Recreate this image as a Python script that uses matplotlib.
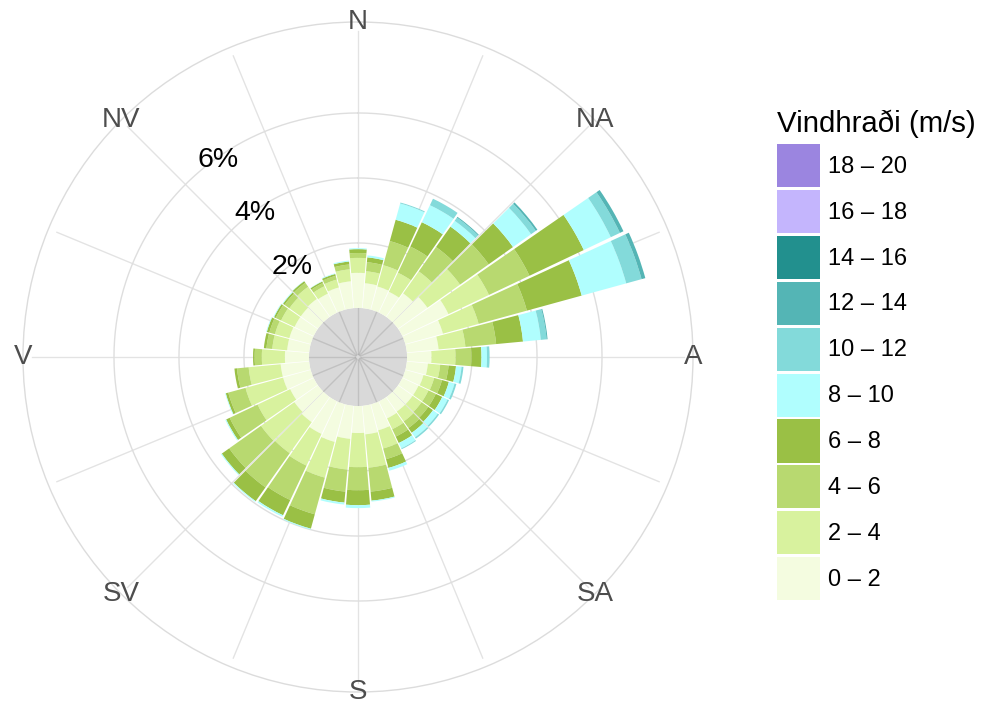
import numpy as np
import matplotlib.pyplot as plt
from matplotlib.patches import Patch

plt.rcParams['font.family'] = ['Liberation Sans', 'DejaVu Sans']

# wind direction bins (degrees, clockwise from north)
directions = np.arange(0, 360, 10)

speed_labels = ['0 – 2', '2 – 4', '4 – 6', '6 – 8', '8 – 10',
                '10 – 12', '12 – 14', '14 – 16', '16 – 18', '18 – 20']
speed_colors = ['#f4fce0', '#d8f29e', '#b8d970', '#9ac045', '#b0fefe',
                '#83dada', '#54b5b5', '#22908e', '#c4b5fd', '#9b85e0']

# frequency (%) per direction for each speed bin
f_0_2 = [1.08, 0.77, 0.74, 0.71, 0.89, 1.11, 1.57, 1.20, 0.98, 0.75, 0.65, 0.58,
         0.55, 0.55, 0.55, 0.58, 0.83, 0.88, 0.83, 1.02, 1.20, 1.11, 0.95, 0.89,
         0.80, 0.88, 0.88, 0.74, 0.68, 0.68, 0.65, 0.65, 0.68, 0.65, 0.71, 0.83]
f_2_4 = [0.46, 0.37, 0.68, 0.65, 0.83, 1.23, 1.38, 1.14, 0.83, 0.74, 0.38, 0.34,
         0.34, 0.34, 0.37, 0.37, 0.58, 1.03, 1.05, 0.95, 1.14, 1.08, 1.17, 1.26,
         1.11, 1.20, 0.99, 0.71, 0.46, 0.46, 0.46, 0.43, 0.46, 0.25, 0.25, 0.37]
f_4_6 = [0.15, 0.28, 0.77, 0.89, 0.92, 1.08, 1.38, 1.54, 0.95, 0.49, 0.26, 0.25,
         0.25, 0.25, 0.25, 0.25, 0.34, 0.74, 0.71, 0.68, 1.17, 1.17, 1.29, 1.20,
         0.95, 0.55, 0.36, 0.22, 0.18, 0.18, 0.18, 0.18, 0.15, 0.11, 0.12, 0.15]
f_6_8 = [0.12, 0.15, 0.68, 0.83, 0.77, 0.92, 1.85, 1.75, 0.83, 0.31, 0.23, 0.22,
         0.22, 0.18, 0.18, 0.22, 0.28, 0.28, 0.46, 0.34, 0.46, 0.52, 0.52, 0.28,
         0.12, 0.08, 0.08, 0.05, 0.08, 0.08, 0.06, 0.06, 0.06, 0.05, 0.06, 0.09]
f_8_10 = [0.03, 0.06, 0.52, 0.58, 0.22, 0.68, 0.92, 1.42, 0.55, 0.17, 0.17, 0.18,
          0.18, 0.18, 0.17, 0.18, 0.09, 0.03, 0.09, 0.06, 0.03, 0.05, 0.03, 0.03,
          0.03, 0.02, 0.00, 0.00, 0.00, 0.02, 0.02, 0.02, 0.01, 0.01, 0.02, 0.03]
f_10_12 = [0.00, 0.00, 0.03, 0.22, 0.12, 0.18, 0.31, 0.49, 0.18, 0.08, 0.06, 0.06,
           0.05, 0.05, 0.05, 0.03, 0.00, 0.00, 0.00, 0.00, 0.00, 0.00, 0.00, 0.00,
           0.00, 0.00, 0.00, 0.00, 0.00, 0.00, 0.00, 0.00, 0.00, 0.00, 0.00, 0.00]
f_12_14 = [0.00, 0.00, 0.00, 0.00, 0.03, 0.06, 0.12, 0.12, 0.03, 0.00, 0.00, 0.00,
           0.00, 0.00, 0.00, 0.00, 0.00, 0.00, 0.00, 0.00, 0.00, 0.00, 0.00, 0.00,
           0.00, 0.00, 0.00, 0.00, 0.00, 0.00, 0.00, 0.00, 0.00, 0.00, 0.00, 0.00]
f_14_16 = [0.0] * 36
f_16_18 = [0.0] * 36
f_18_20 = [0.0] * 36

freqs = [f_0_2, f_2_4, f_4_6, f_6_8, f_8_10, f_10_12, f_12_14, f_14_16, f_16_18, f_18_20]

compass = ['N', 'NA', 'A', 'SA', 'S', 'SV', 'V', 'NV']
ring_values = [2, 4, 6]

hole = 1.51      # calm circle in the middle
r_outer = 8.8
r_spoke = 8.52

fig = plt.figure(figsize=(9.81, 7.06), dpi=100)
ax = fig.add_axes([23 / 981, 14 / 706, 670 / 981, 670 / 706], projection='polar')
ax.set_theta_zero_location('N')
ax.set_theta_direction(-1)
ax.set_ylim(0, hole + r_outer)
ax.grid(False)
ax.set_xticks([])
ax.set_yticks([])
ax.spines['polar'].set_color('#dcdcdc')
ax.spines['polar'].set_linewidth(1)

circ = np.linspace(0, 2 * np.pi, 361)
ax.fill(circ, np.full_like(circ, hole), color='#d9d9d9', lw=0, zorder=1)

for a in np.arange(0, 360, 22.5):
    ax.plot([np.deg2rad(a)] * 2, [0.08, hole + r_spoke], color='black', alpha=0.11, lw=1, zorder=1.5)
for p in ring_values:
    ax.plot(circ, np.full_like(circ, hole + p), color='#dedede', lw=1, zorder=1.5)

theta = np.deg2rad(directions)
bottom = np.full(len(directions), hole)
for vals, c in zip(freqs, speed_colors):
    vals = np.array(vals)
    ax.bar(theta, vals, width=np.deg2rad(9.3), bottom=bottom, color=c, lw=0, zorder=2)
    bottom = bottom + vals

for i, lab in enumerate(compass):
    ax.text(np.deg2rad(45 * i), hole + r_outer, lab, ha='center', va='center',
            fontsize=20, color='#4d4d4d', zorder=3)
for p in ring_values:
    ax.text(np.deg2rad(325), hole + p, f'{p}%', ha='center', va='center_baseline',
            fontsize=20.5, color='black', zorder=3)

handles = [Patch(facecolor=c, edgecolor='none', label=l)
           for c, l in reversed(list(zip(speed_colors, speed_labels)))]
leg = fig.legend(handles=handles, title='Vindhraði (m/s)', loc='upper left',
                 bbox_to_anchor=(777 / 981, 1 - 110 / 706), frameon=False,
                 fontsize=17, title_fontsize=21.2, handlelength=1.83, handleheight=2.43,
                 labelspacing=0.12, handletextpad=0.35, borderpad=0, borderaxespad=0,
                 alignment='left')
leg._legend_box.sep = 4

fig.savefig('out.png', dpi=100)
